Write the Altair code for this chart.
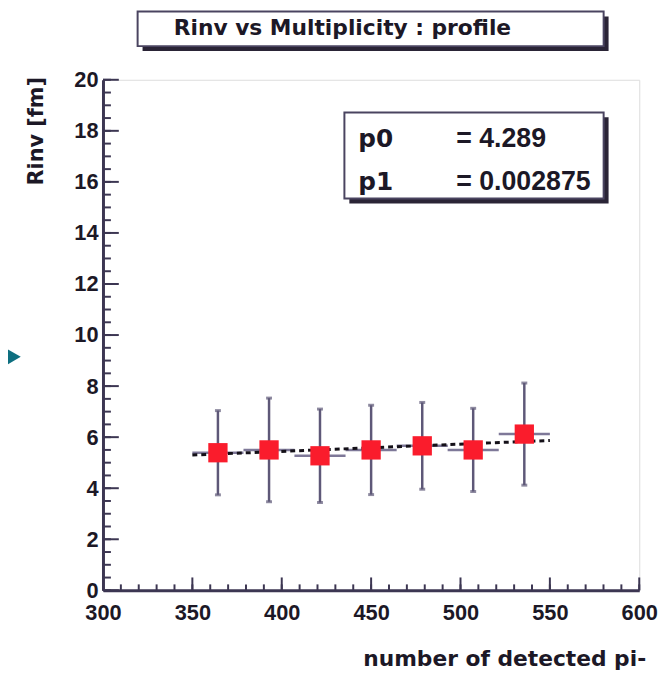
import pandas as pd
import altair as alt

# profile bins (number of detected pi-) and mean Rinv with errors
bin_center = [364.3, 392.9, 421.4, 450.0, 478.6, 507.1, 535.7]
bin_half = [14.3, 14.3, 14.3, 14.3, 14.3, 14.3, 14.3]
rinv = [5.39, 5.50, 5.27, 5.50, 5.66, 5.50, 6.12]
rinv_err = [1.65, 2.03, 1.83, 1.75, 1.70, 1.63, 2.00]

# linear fit p0 + p1*x as drawn
fit_x = [350, 550]
fit_y = [5.30, 5.87]

title_text = ["Rinv vs Multiplicity : profile"]
stat_names = ["p0", "p1"]
stat_values = ["= 4.289", "= 0.002875"]
x_title = ["number of detected pi-"]
y_title = ["Rinv [fm]"]

x_major = [300, 350, 400, 450, 500, 550, 600]
x_minor = list(range(300, 601, 10))
y_major = [0, 2, 4, 6, 8, 10, 12, 14, 16, 18, 20]
y_minor = [v / 2 for v in range(0, 41)]

W, H = 542, 516
FONT = "Liberation Sans"
HEAVY = "DejaVu Sans"
AXIS_DARK = "#3c3652"
FRAME = "#a8a2c0"
TXT = "#1c1826"

df = pd.DataFrame({
    "x": bin_center,
    "xlo": [c - h for c, h in zip(bin_center, bin_half)],
    "xhi": [c + h for c, h in zip(bin_center, bin_half)],
    "y": rinv,
    "lo": [v - e for v, e in zip(rinv, rinv_err)],
    "hi": [v + e for v, e in zip(rinv, rinv_err)],
})
fit = pd.DataFrame({"x": fit_x, "y": fit_y})

xs = alt.Scale(domain=[300, 600], nice=False, zero=False)
ys = alt.Scale(domain=[0, 20], nice=False, zero=False)

# axes (labels + dark domain line), no built-in ticks
axes = alt.Chart(pd.DataFrame({"x": [300], "y": [0]})).mark_point(opacity=0).encode(
    x=alt.X("x:Q", scale=xs, title=None,
            axis=alt.Axis(values=x_major, ticks=False, grid=False, labelPadding=12,
                          labelFontSize=22, labelFont=FONT, labelFontWeight="bold",
                          labelColor=TXT, domainColor=AXIS_DARK, domainWidth=3,
                          labelFlush=False)),
    y=alt.Y("y:Q", scale=ys, title=None,
            axis=alt.Axis(values=y_major, ticks=False, grid=False, labelPadding=5,
                          labelFontSize=22, labelFont=FONT, labelFontWeight="bold",
                          labelColor=TXT, domainColor=AXIS_DARK, domainWidth=3,
                          labelFlush=False)),
)

# inward ticks
xmin_t = alt.Chart(pd.DataFrame({"v": x_minor})).mark_rule(color=AXIS_DARK, strokeWidth=2).encode(
    x=alt.X("v:Q", scale=xs), y=alt.value(H), y2=alt.value(H - 6))
xmaj_t = alt.Chart(pd.DataFrame({"v": x_major})).mark_rule(color=AXIS_DARK, strokeWidth=2).encode(
    x=alt.X("v:Q", scale=xs), y=alt.value(H), y2=alt.value(H - 13))
ymin_t = alt.Chart(pd.DataFrame({"v": y_minor})).mark_rule(color=AXIS_DARK, strokeWidth=2).encode(
    y=alt.Y("v:Q", scale=ys), x=alt.value(0), x2=alt.value(8))
ymaj_t = alt.Chart(pd.DataFrame({"v": y_major})).mark_rule(color=AXIS_DARK, strokeWidth=2).encode(
    y=alt.Y("v:Q", scale=ys), x=alt.value(0), x2=alt.value(16))

# error bars
ERR = "#5e5878"
hbar = alt.Chart(df).mark_rule(color="#7e7898", strokeWidth=2.5).encode(
    x=alt.X("xlo:Q", scale=xs), x2="xhi:Q", y=alt.Y("y:Q", scale=ys))
vbar = alt.Chart(df).mark_rule(color=ERR, strokeWidth=2.5).encode(
    x=alt.X("x:Q", scale=xs), y=alt.Y("lo:Q", scale=ys), y2="hi:Q")
cap_hi = alt.Chart(df).mark_tick(orient="horizontal", size=6, thickness=3, color=ERR).encode(
    x=alt.X("x:Q", scale=xs), y=alt.Y("hi:Q", scale=ys))
cap_lo = alt.Chart(df).mark_tick(orient="horizontal", size=6, thickness=3, color=ERR).encode(
    x=alt.X("x:Q", scale=xs), y=alt.Y("lo:Q", scale=ys))

fit_line = alt.Chart(fit).mark_line(color="#141018", strokeWidth=3, strokeDash=[5, 4]).encode(
    x=alt.X("x:Q", scale=xs), y=alt.Y("y:Q", scale=ys))

markers = alt.Chart(df).mark_square(size=380, color="#fa1c2c", opacity=1).encode(
    x=alt.X("x:Q", scale=xs), y=alt.Y("y:Q", scale=ys))

one = pd.DataFrame({"k": [0]})


def box(x0, y0, x1, y1):
    shadow = alt.Chart(one).mark_rect(color="#2a2436").encode(
        x=alt.value(x0 + 5), x2=alt.value(x1 + 5), y=alt.value(y0 + 5), y2=alt.value(y1 + 5))
    face = alt.Chart(one).mark_rect(fill="white", stroke="#4a4460", strokeWidth=2).encode(
        x=alt.value(x0), x2=alt.value(x1), y=alt.value(y0), y2=alt.value(y1))
    return shadow + face


def label(text, x, y, size, align="left", angle=0, font=HEAVY):
    props = dict(font=font, fontSize=size, fontWeight="bold", color=TXT,
                 align=align, baseline="middle")
    if angle:
        props["angle"] = angle
    return alt.Chart(pd.DataFrame({"t": [text]})).mark_text(**props).encode(
        text="t:N", x=alt.value(x), y=alt.value(y))


title_box = box(35, -69, 506, -34)
title = label(title_text[0], 242, -52, 22, align="center")

stats_box = box(244, 33, 506, 120)
stat_rows_y = [60, 103]
stats = [label(n, 258, yy, 25) for n, yy in zip(stat_names, stat_rows_y)]
stats += [label(v, 357, yy, 27, font=FONT) for v, yy in zip(stat_values, stat_rows_y)]

xt = label(x_title[0], 549, 585, 22, align="right")
yt = label(y_title[0], -67, 52, 21, align="center", angle=270)

# teal pointer at the left edge
pointer = alt.Chart(one).mark_point(shape="triangle-right", size=420, filled=True,
                                    color="#0e6f80", opacity=1).encode(
    x=alt.value(-92), y=alt.value(280))

chart = alt.layer(
    axes, xmin_t, xmaj_t, ymin_t, ymaj_t,
    hbar, vbar, cap_hi, cap_lo, fit_line, markers,
    stats_box, *stats,
    title_box, title, xt, yt, pointer,
).properties(
    width=W, height=H,
    autosize="none",
    padding={"left": 96, "top": 69, "right": 24, "bottom": 78},
).configure_view(stroke=FRAME, strokeWidth=3).configure(background="white")

chart.save("out.html", embed_options={"renderer": "svg", "actions": False})
